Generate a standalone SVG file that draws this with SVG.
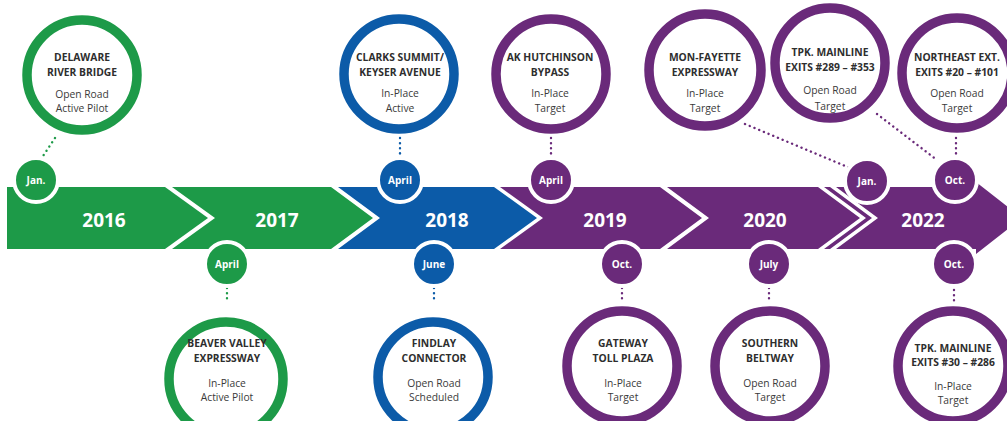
<svg xmlns="http://www.w3.org/2000/svg" width="1007" height="421" viewBox="0 0 1007 421">
  <style>
    .g { fill: #1d9a48; }
    .b { fill: #0c5ba8; }
    .p { fill: #6a2a7a; }
    .ring { fill: #ffffff; stroke-width: 9.5; }
    .ring.g { stroke: #1d9a48; }
    .ring.b { stroke: #0c5ba8; }
    .ring.p { stroke: #6a2a7a; }
    .month { stroke: #ffffff; stroke-width: 4; }
    .dots { fill: none; stroke-width: 2.4; stroke-linecap: round; stroke-dasharray: 0.1 5; }
    .year { font-family: "Open Sans", "Noto Sans", sans-serif; font-weight: 700; font-size: 19px; fill: #ffffff; text-anchor: middle; }
    .mlab { font-family: "Open Sans", "Noto Sans", sans-serif; font-weight: 700; font-size: 10px; fill: #ffffff; text-anchor: middle; }
    .title { font-family: "Open Sans", "Noto Sans", sans-serif; font-weight: 700; font-size: 10.3px; fill: #2e2e2e; text-anchor: middle; }
    .sub { font-family: "Open Sans", "Noto Sans", sans-serif; font-weight: 400; font-size: 10.3px; fill: #3a3a3a; text-anchor: middle; }
  </style>

  <!-- timeline band: one chevron per year -->
  <g id="band">
    <polygon class="g" points="7,187 165,187 208,218 165,249 7,249"/>
    <polygon class="g" points="172,187 331,187 373,218 331,249 172,249 215,218"/>
    <polygon class="b" points="338,187 494,187 537,218 494,249 338,249 380,218"/>
    <polygon class="p" points="500,187 660,187 702,218 660,249 500,249 543,218"/>
    <polygon class="p" points="667,187 818,187 860,218 818,249 667,249 709,218"/>
    <polygon class="p" points="824,187 830,187 872,218 830,249 824,249 866,218"/>
    <polygon class="p" points="836,187 976,187 976,182 1022,218 976,254 976,249 836,249 878,218"/>
    <text class="year" x="104" y="227">2016</text>
    <text class="year" x="277" y="227">2017</text>
    <text class="year" x="447" y="227">2018</text>
    <text class="year" x="605" y="227">2019</text>
    <text class="year" x="765" y="227">2020</text>
    <text class="year" x="923" y="227">2022</text>
  </g>

  <!-- dotted leaders from month markers to project circles -->
  <g id="connectors">
    <line class="dots" stroke="#1d9a48" x1="55" y1="138" x2="43" y2="156"/>
    <line class="dots" stroke="#0c5ba8" x1="400" y1="138" x2="400" y2="156"/>
    <line class="dots" stroke="#6a2a7a" x1="551" y1="138" x2="551" y2="156"/>
    <line class="dots" stroke="#6a2a7a" x1="745" y1="124" x2="850" y2="168"/>
    <line class="dots" stroke="#6a2a7a" x1="877" y1="114" x2="937" y2="160"/>
    <line class="dots" stroke="#6a2a7a" x1="956" y1="138" x2="956" y2="156"/>
    <line class="dots" stroke="#1d9a48" x1="227" y1="288" x2="227" y2="303"/>
    <line class="dots" stroke="#0c5ba8" x1="434" y1="288" x2="434" y2="303"/>
    <line class="dots" stroke="#6a2a7a" x1="622" y1="288" x2="622" y2="303"/>
    <line class="dots" stroke="#6a2a7a" x1="769" y1="288" x2="769" y2="303"/>
    <line class="dots" stroke="#6a2a7a" x1="954" y1="290" x2="954" y2="305"/>
  </g>

  <!-- month markers -->
  <g id="m-jan-2016"><circle class="g month" cx="36" cy="180" r="22"/><text class="mlab" x="36" y="184">Jan.</text></g>
  <g id="m-apr-2017"><circle class="g month" cx="227" cy="264" r="22"/><text class="mlab" x="227" y="268">April</text></g>
  <g id="m-apr-2018"><circle class="b month" cx="400" cy="180" r="22"/><text class="mlab" x="400" y="184">April</text></g>
  <g id="m-jun-2018"><circle class="b month" cx="434" cy="264" r="22"/><text class="mlab" x="434" y="268">June</text></g>
  <g id="m-apr-2019"><circle class="p month" cx="551" cy="180" r="22"/><text class="mlab" x="551" y="184">April</text></g>
  <g id="m-oct-2019"><circle class="p month" cx="622" cy="264" r="22"/><text class="mlab" x="622" y="268">Oct.</text></g>
  <g id="m-jul-2020"><circle class="p month" cx="769" cy="264" r="22"/><text class="mlab" x="769" y="268">July</text></g>
  <g id="m-jan-2022"><circle class="p month" cx="867" cy="181" r="22"/><text class="mlab" x="867" y="185">Jan.</text></g>
  <g id="m-oct-2022a"><circle class="p month" cx="955" cy="180" r="22"/><text class="mlab" x="955" y="184">Oct.</text></g>
  <g id="m-oct-2022b"><circle class="p month" cx="954" cy="264" r="22"/><text class="mlab" x="954" y="268">Oct.</text></g>

  <!-- project circles above the band -->
  <g id="delaware">
    <circle class="ring g" cx="82" cy="75" r="55"/>
    <text class="title" x="82" y="61">DELAWARE</text>
    <text class="title" x="82" y="76">RIVER BRIDGE</text>
    <text class="sub" x="82" y="98">Open Road</text>
    <text class="sub" x="82" y="112">Active Pilot</text>
  </g>
  <g id="clarks-summit">
    <circle class="ring b" cx="399" cy="74" r="55"/>
    <text class="title" x="400" y="61">CLARKS SUMMIT/</text>
    <text class="title" x="400" y="76">KEYSER AVENUE</text>
    <text class="sub" x="400" y="97">In-Place</text>
    <text class="sub" x="400" y="112">Active</text>
  </g>
  <g id="ak-hutchinson">
    <circle class="ring p" cx="551" cy="74" r="55"/>
    <text class="title" x="550" y="61">AK HUTCHINSON</text>
    <text class="title" x="550" y="76">BYPASS</text>
    <text class="sub" x="550" y="97">In-Place</text>
    <text class="sub" x="550" y="112">Target</text>
  </g>
  <g id="mon-fayette">
    <circle class="ring p" cx="705" cy="70" r="56"/>
    <text class="title" x="705" y="61">MON-FAYETTE</text>
    <text class="title" x="705" y="76">EXPRESSWAY</text>
    <text class="sub" x="705" y="97">In-Place</text>
    <text class="sub" x="705" y="112">Target</text>
  </g>
  <g id="tpk-289-353">
    <circle class="ring p" cx="830" cy="63" r="55"/>
    <text class="title" x="830" y="56">TPK. MAINLINE</text>
    <text class="title" x="830" y="71">EXITS #289 – #353</text>
    <text class="sub" x="830" y="94">Open Road</text>
    <text class="sub" x="830" y="110">Target</text>
  </g>
  <g id="northeast-ext">
    <circle class="ring p" cx="957" cy="73" r="55"/>
    <text class="title" x="957" y="61">NORTHEAST EXT.</text>
    <text class="title" x="957" y="76">EXITS #20 – #101</text>
    <text class="sub" x="957" y="97">Open Road</text>
    <text class="sub" x="957" y="112">Target</text>
  </g>

  <!-- project circles below the band -->
  <g id="beaver-valley">
    <circle class="ring g" cx="226" cy="379" r="57"/>
    <text class="title" x="227" y="347">BEAVER VALLEY</text>
    <text class="title" x="227" y="362">EXPRESSWAY</text>
    <text class="sub" x="227" y="387">In-Place</text>
    <text class="sub" x="227" y="401">Active Pilot</text>
  </g>
  <g id="findlay">
    <circle class="ring b" cx="433" cy="377" r="55"/>
    <text class="title" x="434" y="347">FINDLAY</text>
    <text class="title" x="434" y="362">CONNECTOR</text>
    <text class="sub" x="434" y="387">Open Road</text>
    <text class="sub" x="434" y="401">Scheduled</text>
  </g>
  <g id="gateway">
    <circle class="ring p" cx="622" cy="366" r="55"/>
    <text class="title" x="623" y="347">GATEWAY</text>
    <text class="title" x="623" y="362">TOLL PLAZA</text>
    <text class="sub" x="623" y="387">In-Place</text>
    <text class="sub" x="623" y="401">Target</text>
  </g>
  <g id="southern-beltway">
    <circle class="ring p" cx="770" cy="366" r="55"/>
    <text class="title" x="770" y="347">SOUTHERN</text>
    <text class="title" x="770" y="362">BELTWAY</text>
    <text class="sub" x="770" y="387">Open Road</text>
    <text class="sub" x="770" y="401">Target</text>
  </g>
  <g id="tpk-30-286">
    <circle class="ring p" cx="953" cy="366" r="55"/>
    <text class="title" x="953" y="352">TPK. MAINLINE</text>
    <text class="title" x="953" y="366">EXITS #30 – #286</text>
    <text class="sub" x="953" y="390">In-Place</text>
    <text class="sub" x="953" y="404">Target</text>
  </g>
</svg>
